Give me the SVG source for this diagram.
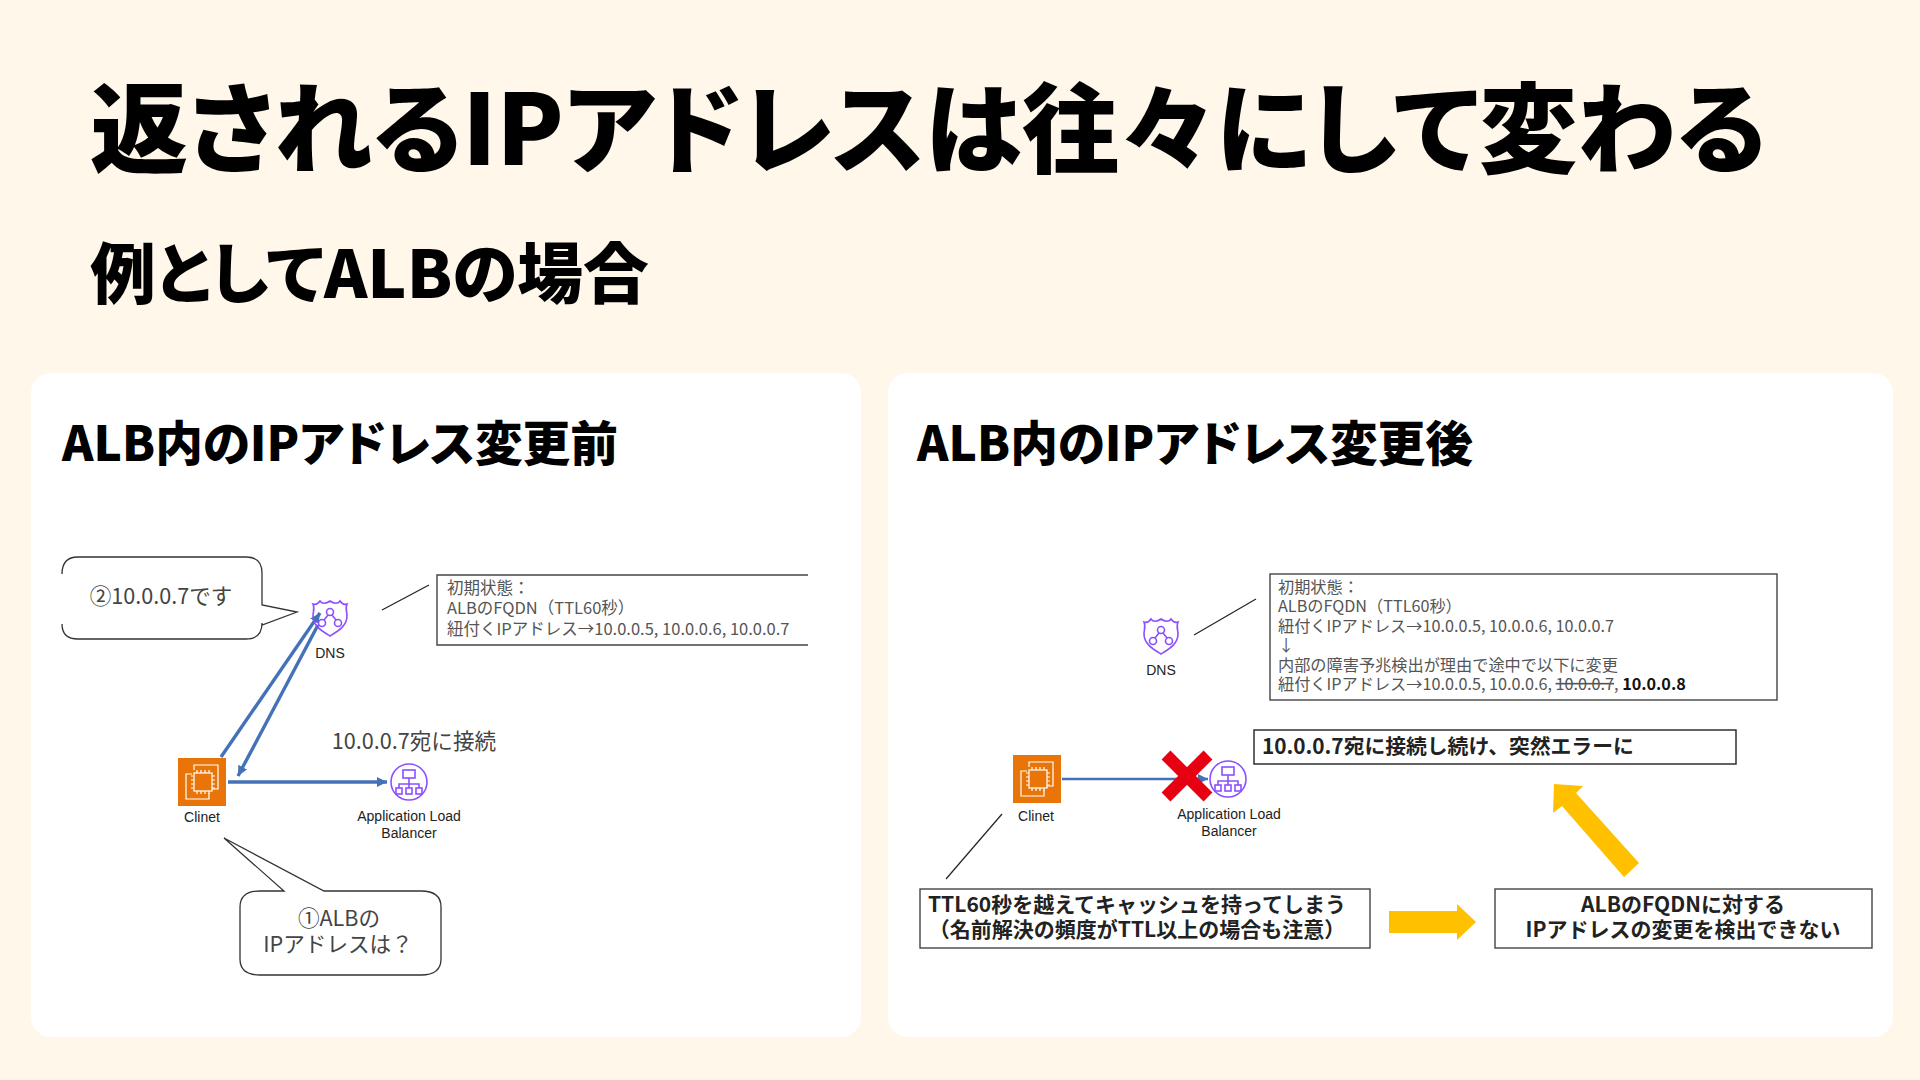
<svg xmlns="http://www.w3.org/2000/svg" width="1920" height="1080" viewBox="0 0 1920 1080">
<style>
text{font-family:"Noto Sans CJK JP","Noto Sans",sans-serif}
.h1{font-size:98px;font-weight:900;fill:#000;font-feature-settings:"palt"}
.h2{font-size:65.8px;font-weight:900;fill:#000;font-feature-settings:"palt"}
.h3{font-size:47.7px;font-weight:900;fill:#000;font-feature-settings:"palt"}
.card{fill:#fff}
.note{font-size:16.5px;fill:#555}
.note2{font-size:16.2px;fill:#555}
.lbl{font-family:"Liberation Sans",Arial,sans-serif;font-size:14px;fill:#222;text-anchor:middle}
.say{font-size:21.6px;fill:#444}
.mid{text-anchor:middle}
.bold{font-size:21px;font-weight:700;fill:#222}
.box{fill:#fff;stroke:#444;stroke-width:1.4}
.ln{stroke:#222;stroke-width:1.2;fill:none}
.bubble{fill:#fff;stroke:#333;stroke-width:1.3}
.flow{stroke:#4472b8;stroke-width:3.4;fill:none;marker-end:url(#tip)}
.gold{fill:#ffc000}
.pur{fill:none;stroke:#8c4fff;stroke-width:1.6}
.wht{fill:none;stroke:#fff;stroke-width:1.2}
</style>
<defs>
<marker id="tip" markerUnits="userSpaceOnUse" markerWidth="12" markerHeight="12" refX="10" refY="5" orient="auto"><path d="M0 0L10 5L0 10z" fill="#4472b8"/></marker>
<symbol id="ec2" viewBox="0 0 48 48" overflow="visible">
<rect width="48" height="48" fill="#e97508"/>
<path class="wht" d="M16 12V7H40V31H34M14 16H8V41H31V35"/>
<rect class="wht" x="16" y="15" width="18" height="18"/>
<path class="wht" d="M19 12v3M23 12v3M27 12v3M31 12v3M19 33v3M23 33v3M27 33v3M31 33v3M13 18h3M13 22h3M13 26h3M13 30h3M34 18h3M34 22h3M34 26h3M34 30h3"/>
</symbol>
<symbol id="dns" viewBox="0 0 38 38" overflow="visible">
<path class="pur" d="M2 5C5 6 7 5 9 2C11 5 15 5 19 2C23 5 27 5 29 2C31 5 33 6 36 5C34 9 36 13 36 17C36 27 27 32 19 37C11 32 2 27 2 17C2 13 4 9 2 5z"/>
<circle class="pur" cx="19" cy="13" r="3.5"/><circle class="pur" cx="11" cy="24" r="3.5"/><circle class="pur" cx="27" cy="24" r="3.5"/>
<path class="pur" d="M17 16L13 21M21 16L25 21"/>
</symbol>
<symbol id="alb" viewBox="0 0 38 38" overflow="visible">
<circle class="pur" cx="19" cy="19" r="18"/>
<rect class="pur" x="13" y="7" width="12" height="8"/>
<path class="pur" d="M19 15V21M9 25V21H29V25M19 21V25"/>
<rect class="pur" x="6" y="25" width="6" height="6"/><rect class="pur" x="16" y="25" width="6" height="6"/><rect class="pur" x="26" y="25" width="6" height="6"/>
</symbol>
</defs>
<rect width="1920" height="1080" fill="#fef7ea"/>
<text class="h1" x="90" y="165">返されるIPアドレスは往々にして変わる</text>
<text class="h2" x="90" y="298">例としてALBの場合</text>
<rect class="card" x="31" y="373" width="830" height="664" rx="20"/>
<rect class="card" x="888" y="373" width="1005" height="664" rx="20"/>
<text class="h3" x="62" y="461">ALB内のIPアドレス変更前</text>
<text class="h3" x="917" y="461">ALB内のIPアドレス変更後</text>

<g id="connectors">
<path class="flow" d="M221 757L320 613"/>
<path class="flow" d="M318 625L238 776"/>
<path class="flow" d="M228 782H387"/>
<path class="flow" style="stroke-width:2.4" d="M1062 779H1208"/>
<path class="ln" d="M382 610L429 585"/>
<path class="ln" d="M1194 635L1256 599"/>
<path class="ln" d="M1002 814L946 879"/>
</g>

<g id="left-bubble-2">
<path class="bubble" style="stroke:none" d="M62 557H262V605L297 612L262 625V639H62z"/>
<path class="bubble" style="fill:none" d="M62 574Q62 557 78 557H246Q262 557 262 573V605L297 612L262 625V623Q262 639 246 639H78Q62 639 62 624"/>
<text class="say mid" x="161" y="604">②10.0.0.7です</text>
</g>
<g id="left-dns"><use href="#dns" x="311" y="599" width="38" height="38"/><text class="lbl" x="330" y="658">DNS</text></g>
<g id="left-note">
<path class="ln" style="stroke:#444;stroke-width:1.4" d="M808 575H437V645H808"/>
<text class="note" x="447" y="594">初期状態：<tspan x="447" y="614">ALBのFQDN（TTL60秒）</tspan><tspan x="447" y="635">紐付くIPアドレス→10.0.0.5, 10.0.0.6, 10.0.0.7</tspan></text>
</g>
<g id="left-client"><use href="#ec2" x="178" y="758" width="48" height="48"/><text class="lbl" x="202" y="822">Clinet</text></g>
<text class="say mid" x="414" y="749">10.0.0.7宛に接続</text>
<g id="left-alb"><use href="#alb" x="390" y="763" width="38" height="38"/><text class="lbl" x="409" y="821">Application Load</text><text class="lbl" x="409" y="838">Balancer</text></g>
<g id="left-bubble-1">
<path class="bubble" d="M224 838L284 891H260Q240 891 240 907V959Q240 975 260 975H421Q441 975 441 959V907Q441 891 421 891H324z"/>
<text class="say mid" x="339" y="926">①ALBの</text>
<text class="say mid" x="338" y="952">IPアドレスは？</text>
</g>

<g id="right-dns"><use href="#dns" x="1142" y="617" width="38" height="38"/><text class="lbl" x="1161" y="675">DNS</text></g>
<g id="right-note">
<rect class="box" x="1270" y="574" width="507" height="126"/>
<text class="note2" x="1278" y="593">初期状態：<tspan x="1278" y="612">ALBのFQDN（TTL60秒）</tspan><tspan x="1278" y="632">紐付くIPアドレス→10.0.0.5, 10.0.0.6, 10.0.0.7</tspan><tspan x="1278" y="651">↓</tspan><tspan x="1278" y="671">内部の障害予兆検出が理由で途中で以下に変更</tspan><tspan x="1278" y="690">紐付くIPアドレス→10.0.0.5, 10.0.0.6, </tspan><tspan text-decoration="line-through">10.0.0.7</tspan>, <tspan font-weight="700" fill="#111">10.0.0.8</tspan></text>
</g>
<g id="right-client"><use href="#ec2" x="1013" y="755" width="48" height="48"/><text class="lbl" x="1036" y="821">Clinet</text></g>
<g id="right-alb"><use href="#alb" x="1209" y="760" width="38" height="38"/><text class="lbl" x="1229" y="819">Application Load</text><text class="lbl" x="1229" y="836">Balancer</text></g>
<g id="red-x"><path d="M1166 755L1208 797M1208 755L1166 797" stroke="#e60012" stroke-width="12.5" fill="none"/></g>
<g id="error-box"><rect class="box" style="stroke:#222" x="1254" y="730" width="482" height="34"/><text class="bold" style="font-size:20.8px" x="1262" y="754">10.0.0.7宛に接続し続け、突然エラーに</text></g>
<g id="arrow-up"><path class="gold" d="M1554 784L1583 786L1576 793L1639 863L1624 877L1562 806L1553 813z"/></g>
<g id="arrow-right"><path class="gold" d="M1389 911H1457V904L1476 922L1457 940V933H1389z"/></g>
<g id="cache-box"><rect class="box" x="920" y="889" width="450" height="59"/><text class="bold" x="928" y="912">TTL60秒を越えてキャッシュを持ってしまう</text><text class="bold mid" x="1137" y="937">（名前解決の頻度がTTL以上の場合も注意）</text></g>
<g id="detect-box"><rect class="box" x="1495" y="889" width="377" height="59"/><text class="bold mid" x="1683" y="912">ALBのFQDNに対する</text><text class="bold mid" x="1683" y="937">IPアドレスの変更を検出できない</text></g>
</svg>
